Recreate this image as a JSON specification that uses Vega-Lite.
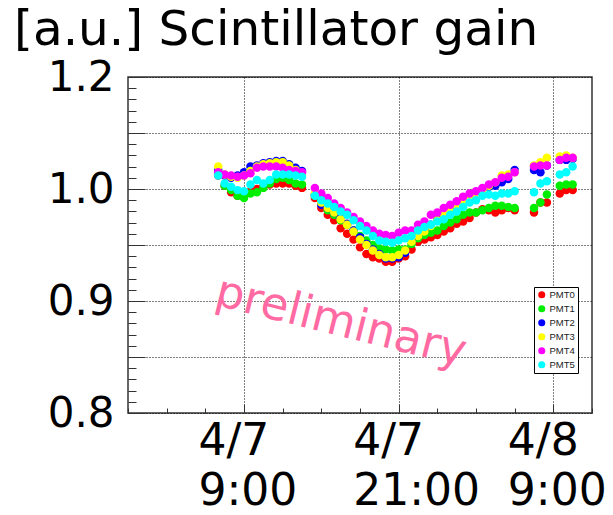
{
"$schema":"https://vega.github.io/schema/vega-lite/v6.json",
"width":464,"height":336,
"autosize":{"type":"none"},
"padding":{"left":128,"top":77,"right":21,"bottom":102},
"background":"white",
"title":{"text":"[a.u.]  Scintillator gain","anchor":"start","frame":"group","dx":-114,"dy":67,"offset":30,"baseline":"alphabetic","fontSize":48.5,"fontWeight":"normal","font":"DejaVu Sans","color":"black"},
"config":{"font":"DejaVu Sans","view":{"stroke":"#333","strokeWidth":1.5}},
"layer":[
{"data":{"values":[
{"t":"2015-04-07T07:00","s":"PMT0","v":1.012},{"t":"2015-04-07T07:30","s":"PMT0","v":1.003},{"t":"2015-04-07T08:00","s":"PMT0","v":0.997},{"t":"2015-04-07T08:30","s":"PMT0","v":0.994},{"t":"2015-04-07T09:00","s":"PMT0","v":0.994},{"t":"2015-04-07T09:30","s":"PMT0","v":0.998},{"t":"2015-04-07T10:00","s":"PMT0","v":1.000},{"t":"2015-04-07T10:30","s":"PMT0","v":1.003},{"t":"2015-04-07T11:00","s":"PMT0","v":1.004},{"t":"2015-04-07T11:30","s":"PMT0","v":1.005},{"t":"2015-04-07T12:00","s":"PMT0","v":1.005},{"t":"2015-04-07T12:30","s":"PMT0","v":1.005},{"t":"2015-04-07T13:00","s":"PMT0","v":1.003},{"t":"2015-04-07T13:30","s":"PMT0","v":1.001},
{"t":"2015-04-07T14:30","s":"PMT0","v":0.992},{"t":"2015-04-07T15:00","s":"PMT0","v":0.983},{"t":"2015-04-07T15:30","s":"PMT0","v":0.977},{"t":"2015-04-07T16:00","s":"PMT0","v":0.972},{"t":"2015-04-07T16:30","s":"PMT0","v":0.965},{"t":"2015-04-07T17:00","s":"PMT0","v":0.960},{"t":"2015-04-07T17:30","s":"PMT0","v":0.955},{"t":"2015-04-07T18:00","s":"PMT0","v":0.948},{"t":"2015-04-07T18:30","s":"PMT0","v":0.942},{"t":"2015-04-07T19:00","s":"PMT0","v":0.939},{"t":"2015-04-07T19:30","s":"PMT0","v":0.938},{"t":"2015-04-07T20:00","s":"PMT0","v":0.935},{"t":"2015-04-07T20:30","s":"PMT0","v":0.935},{"t":"2015-04-07T21:00","s":"PMT0","v":0.938},{"t":"2015-04-07T21:30","s":"PMT0","v":0.940},
{"t":"2015-04-07T22:00","s":"PMT0","v":0.946},{"t":"2015-04-07T22:30","s":"PMT0","v":0.953},{"t":"2015-04-07T23:00","s":"PMT0","v":0.955},{"t":"2015-04-07T23:30","s":"PMT0","v":0.957},{"t":"2015-04-08T00:00","s":"PMT0","v":0.959},{"t":"2015-04-08T00:30","s":"PMT0","v":0.962},{"t":"2015-04-08T01:00","s":"PMT0","v":0.965},{"t":"2015-04-08T01:30","s":"PMT0","v":0.969},{"t":"2015-04-08T02:00","s":"PMT0","v":0.971},{"t":"2015-04-08T02:30","s":"PMT0","v":0.974},{"t":"2015-04-08T03:00","s":"PMT0","v":0.979},{"t":"2015-04-08T03:30","s":"PMT0","v":0.982},{"t":"2015-04-08T04:00","s":"PMT0","v":0.981},{"t":"2015-04-08T04:30","s":"PMT0","v":0.979},{"t":"2015-04-08T05:00","s":"PMT0","v":0.981},{"t":"2015-04-08T05:30","s":"PMT0","v":0.983},{"t":"2015-04-08T06:00","s":"PMT0","v":0.981},
{"t":"2015-04-08T07:30","s":"PMT0","v":0.979},{"t":"2015-04-08T08:00","s":"PMT0","v":0.988},{"t":"2015-04-08T08:30","s":"PMT0","v":0.988},{"t":"2015-04-08T09:30","s":"PMT0","v":0.996},{"t":"2015-04-08T10:00","s":"PMT0","v":0.999},{"t":"2015-04-08T10:30","s":"PMT0","v":0.999},
{"t":"2015-04-07T07:00","s":"PMT1","v":1.013},{"t":"2015-04-07T07:30","s":"PMT1","v":1.003},{"t":"2015-04-07T08:00","s":"PMT1","v":0.999},{"t":"2015-04-07T08:30","s":"PMT1","v":0.994},{"t":"2015-04-07T09:00","s":"PMT1","v":0.992},{"t":"2015-04-07T09:30","s":"PMT1","v":0.996},{"t":"2015-04-07T10:00","s":"PMT1","v":0.997},{"t":"2015-04-07T10:30","s":"PMT1","v":1.001},{"t":"2015-04-07T11:00","s":"PMT1","v":1.005},{"t":"2015-04-07T11:30","s":"PMT1","v":1.009},{"t":"2015-04-07T12:00","s":"PMT1","v":1.010},{"t":"2015-04-07T12:30","s":"PMT1","v":1.008},{"t":"2015-04-07T13:00","s":"PMT1","v":1.005},{"t":"2015-04-07T13:30","s":"PMT1","v":1.004},
{"t":"2015-04-07T14:30","s":"PMT1","v":0.994},{"t":"2015-04-07T15:00","s":"PMT1","v":0.987},{"t":"2015-04-07T15:30","s":"PMT1","v":0.981},{"t":"2015-04-07T16:00","s":"PMT1","v":0.977},{"t":"2015-04-07T16:30","s":"PMT1","v":0.972},{"t":"2015-04-07T17:00","s":"PMT1","v":0.968},{"t":"2015-04-07T17:30","s":"PMT1","v":0.963},{"t":"2015-04-07T18:00","s":"PMT1","v":0.958},{"t":"2015-04-07T18:30","s":"PMT1","v":0.954},{"t":"2015-04-07T19:00","s":"PMT1","v":0.950},{"t":"2015-04-07T19:30","s":"PMT1","v":0.947},{"t":"2015-04-07T20:00","s":"PMT1","v":0.946},{"t":"2015-04-07T20:30","s":"PMT1","v":0.945},{"t":"2015-04-07T21:00","s":"PMT1","v":0.946},{"t":"2015-04-07T21:30","s":"PMT1","v":0.946},
{"t":"2015-04-07T22:00","s":"PMT1","v":0.951},{"t":"2015-04-07T22:30","s":"PMT1","v":0.956},{"t":"2015-04-07T23:00","s":"PMT1","v":0.959},{"t":"2015-04-07T23:30","s":"PMT1","v":0.961},{"t":"2015-04-08T00:00","s":"PMT1","v":0.963},{"t":"2015-04-08T00:30","s":"PMT1","v":0.967},{"t":"2015-04-08T01:00","s":"PMT1","v":0.970},{"t":"2015-04-08T01:30","s":"PMT1","v":0.973},{"t":"2015-04-08T02:00","s":"PMT1","v":0.977},{"t":"2015-04-08T02:30","s":"PMT1","v":0.979},{"t":"2015-04-08T03:00","s":"PMT1","v":0.979},{"t":"2015-04-08T03:30","s":"PMT1","v":0.981},{"t":"2015-04-08T04:00","s":"PMT1","v":0.983},{"t":"2015-04-08T04:30","s":"PMT1","v":0.985},{"t":"2015-04-08T05:00","s":"PMT1","v":0.985},{"t":"2015-04-08T05:30","s":"PMT1","v":0.984},{"t":"2015-04-08T06:00","s":"PMT1","v":0.983},
{"t":"2015-04-08T07:30","s":"PMT1","v":0.983},{"t":"2015-04-08T08:00","s":"PMT1","v":0.988},{"t":"2015-04-08T08:30","s":"PMT1","v":0.995},{"t":"2015-04-08T09:30","s":"PMT1","v":1.003},{"t":"2015-04-08T10:00","s":"PMT1","v":1.004},{"t":"2015-04-08T10:30","s":"PMT1","v":1.004},
{"t":"2015-04-07T07:00","s":"PMT2","v":1.017},{"t":"2015-04-07T07:30","s":"PMT2","v":1.012},{"t":"2015-04-07T08:00","s":"PMT2","v":1.010},{"t":"2015-04-07T08:30","s":"PMT2","v":1.012},{"t":"2015-04-07T09:00","s":"PMT2","v":1.015},{"t":"2015-04-07T09:30","s":"PMT2","v":1.020},{"t":"2015-04-07T10:00","s":"PMT2","v":1.021},{"t":"2015-04-07T10:30","s":"PMT2","v":1.023},{"t":"2015-04-07T11:00","s":"PMT2","v":1.024},{"t":"2015-04-07T11:30","s":"PMT2","v":1.025},{"t":"2015-04-07T12:00","s":"PMT2","v":1.025},{"t":"2015-04-07T12:30","s":"PMT2","v":1.022},{"t":"2015-04-07T13:00","s":"PMT2","v":1.019},{"t":"2015-04-07T13:30","s":"PMT2","v":1.016},
{"t":"2015-04-07T14:30","s":"PMT2","v":0.995},{"t":"2015-04-07T15:00","s":"PMT2","v":0.986},{"t":"2015-04-07T15:30","s":"PMT2","v":0.983},{"t":"2015-04-07T16:00","s":"PMT2","v":0.979},{"t":"2015-04-07T16:30","s":"PMT2","v":0.974},{"t":"2015-04-07T17:00","s":"PMT2","v":0.969},{"t":"2015-04-07T17:30","s":"PMT2","v":0.963},{"t":"2015-04-07T18:00","s":"PMT2","v":0.957},{"t":"2015-04-07T18:30","s":"PMT2","v":0.951},{"t":"2015-04-07T19:00","s":"PMT2","v":0.946},{"t":"2015-04-07T19:30","s":"PMT2","v":0.942},{"t":"2015-04-07T20:00","s":"PMT2","v":0.938},{"t":"2015-04-07T20:30","s":"PMT2","v":0.938},{"t":"2015-04-07T21:00","s":"PMT2","v":0.939},{"t":"2015-04-07T21:30","s":"PMT2","v":0.943},
{"t":"2015-04-07T22:00","s":"PMT2","v":0.955},{"t":"2015-04-07T22:30","s":"PMT2","v":0.960},{"t":"2015-04-07T23:00","s":"PMT2","v":0.963},{"t":"2015-04-07T23:30","s":"PMT2","v":0.968},{"t":"2015-04-08T00:00","s":"PMT2","v":0.973},{"t":"2015-04-08T00:30","s":"PMT2","v":0.978},{"t":"2015-04-08T01:00","s":"PMT2","v":0.981},{"t":"2015-04-08T01:30","s":"PMT2","v":0.986},{"t":"2015-04-08T02:00","s":"PMT2","v":0.989},{"t":"2015-04-08T02:30","s":"PMT2","v":0.993},{"t":"2015-04-08T03:00","s":"PMT2","v":0.996},{"t":"2015-04-08T03:30","s":"PMT2","v":1.000},{"t":"2015-04-08T04:00","s":"PMT2","v":1.002},{"t":"2015-04-08T04:30","s":"PMT2","v":1.003},{"t":"2015-04-08T05:00","s":"PMT2","v":1.006},{"t":"2015-04-08T05:30","s":"PMT2","v":1.009},{"t":"2015-04-08T06:00","s":"PMT2","v":1.017},
{"t":"2015-04-08T07:30","s":"PMT2","v":1.017},{"t":"2015-04-08T08:00","s":"PMT2","v":1.015},{"t":"2015-04-08T08:30","s":"PMT2","v":1.021},{"t":"2015-04-08T09:30","s":"PMT2","v":1.026},{"t":"2015-04-08T10:00","s":"PMT2","v":1.026},{"t":"2015-04-08T10:30","s":"PMT2","v":1.027},
{"t":"2015-04-07T07:00","s":"PMT3","v":1.020},{"t":"2015-04-07T07:30","s":"PMT3","v":1.013},{"t":"2015-04-07T08:00","s":"PMT3","v":1.011},{"t":"2015-04-07T08:30","s":"PMT3","v":1.010},{"t":"2015-04-07T09:00","s":"PMT3","v":1.012},{"t":"2015-04-07T09:30","s":"PMT3","v":1.016},{"t":"2015-04-07T10:00","s":"PMT3","v":1.020},{"t":"2015-04-07T10:30","s":"PMT3","v":1.022},{"t":"2015-04-07T11:00","s":"PMT3","v":1.023},{"t":"2015-04-07T11:30","s":"PMT3","v":1.024},{"t":"2015-04-07T12:00","s":"PMT3","v":1.024},{"t":"2015-04-07T12:30","s":"PMT3","v":1.021},{"t":"2015-04-07T13:00","s":"PMT3","v":1.017},{"t":"2015-04-07T13:30","s":"PMT3","v":1.013},
{"t":"2015-04-07T14:30","s":"PMT3","v":0.996},{"t":"2015-04-07T15:00","s":"PMT3","v":0.988},{"t":"2015-04-07T15:30","s":"PMT3","v":0.983},{"t":"2015-04-07T16:00","s":"PMT3","v":0.979},{"t":"2015-04-07T16:30","s":"PMT3","v":0.973},{"t":"2015-04-07T17:00","s":"PMT3","v":0.968},{"t":"2015-04-07T17:30","s":"PMT3","v":0.962},{"t":"2015-04-07T18:00","s":"PMT3","v":0.955},{"t":"2015-04-07T18:30","s":"PMT3","v":0.950},{"t":"2015-04-07T19:00","s":"PMT3","v":0.945},{"t":"2015-04-07T19:30","s":"PMT3","v":0.941},{"t":"2015-04-07T20:00","s":"PMT3","v":0.939},{"t":"2015-04-07T20:30","s":"PMT3","v":0.939},{"t":"2015-04-07T21:00","s":"PMT3","v":0.941},{"t":"2015-04-07T21:30","s":"PMT3","v":0.945},
{"t":"2015-04-07T22:00","s":"PMT3","v":0.953},{"t":"2015-04-07T22:30","s":"PMT3","v":0.958},{"t":"2015-04-07T23:00","s":"PMT3","v":0.962},{"t":"2015-04-07T23:30","s":"PMT3","v":0.967},{"t":"2015-04-08T00:00","s":"PMT3","v":0.972},{"t":"2015-04-08T00:30","s":"PMT3","v":0.977},{"t":"2015-04-08T01:00","s":"PMT3","v":0.980},{"t":"2015-04-08T01:30","s":"PMT3","v":0.985},{"t":"2015-04-08T02:00","s":"PMT3","v":0.988},{"t":"2015-04-08T02:30","s":"PMT3","v":0.992},{"t":"2015-04-08T03:00","s":"PMT3","v":0.996},{"t":"2015-04-08T03:30","s":"PMT3","v":0.999},{"t":"2015-04-08T04:00","s":"PMT3","v":1.003},{"t":"2015-04-08T04:30","s":"PMT3","v":1.006},{"t":"2015-04-08T05:00","s":"PMT3","v":1.012},{"t":"2015-04-08T05:30","s":"PMT3","v":1.013},{"t":"2015-04-08T06:00","s":"PMT3","v":1.015},
{"t":"2015-04-08T07:30","s":"PMT3","v":1.021},{"t":"2015-04-08T08:00","s":"PMT3","v":1.024},{"t":"2015-04-08T08:30","s":"PMT3","v":1.028},{"t":"2015-04-08T09:30","s":"PMT3","v":1.029},{"t":"2015-04-08T10:00","s":"PMT3","v":1.030},{"t":"2015-04-08T10:30","s":"PMT3","v":1.028},
{"t":"2015-04-07T07:00","s":"PMT4","v":1.015},{"t":"2015-04-07T07:30","s":"PMT4","v":1.013},{"t":"2015-04-07T08:00","s":"PMT4","v":1.012},{"t":"2015-04-07T08:30","s":"PMT4","v":1.011},{"t":"2015-04-07T09:00","s":"PMT4","v":1.012},{"t":"2015-04-07T09:30","s":"PMT4","v":1.014},{"t":"2015-04-07T10:00","s":"PMT4","v":1.019},{"t":"2015-04-07T10:30","s":"PMT4","v":1.020},{"t":"2015-04-07T11:00","s":"PMT4","v":1.020},{"t":"2015-04-07T11:30","s":"PMT4","v":1.020},{"t":"2015-04-07T12:00","s":"PMT4","v":1.019},{"t":"2015-04-07T12:30","s":"PMT4","v":1.017},{"t":"2015-04-07T13:00","s":"PMT4","v":1.016},{"t":"2015-04-07T13:30","s":"PMT4","v":1.015},
{"t":"2015-04-07T14:30","s":"PMT4","v":1.001},{"t":"2015-04-07T15:00","s":"PMT4","v":0.996},{"t":"2015-04-07T15:30","s":"PMT4","v":0.992},{"t":"2015-04-07T16:00","s":"PMT4","v":0.987},{"t":"2015-04-07T16:30","s":"PMT4","v":0.983},{"t":"2015-04-07T17:00","s":"PMT4","v":0.979},{"t":"2015-04-07T17:30","s":"PMT4","v":0.975},{"t":"2015-04-07T18:00","s":"PMT4","v":0.971},{"t":"2015-04-07T18:30","s":"PMT4","v":0.967},{"t":"2015-04-07T19:00","s":"PMT4","v":0.963},{"t":"2015-04-07T19:30","s":"PMT4","v":0.960},{"t":"2015-04-07T20:00","s":"PMT4","v":0.959},{"t":"2015-04-07T20:30","s":"PMT4","v":0.958},{"t":"2015-04-07T21:00","s":"PMT4","v":0.961},{"t":"2015-04-07T21:30","s":"PMT4","v":0.963},
{"t":"2015-04-07T22:00","s":"PMT4","v":0.963},{"t":"2015-04-07T22:30","s":"PMT4","v":0.968},{"t":"2015-04-07T23:00","s":"PMT4","v":0.971},{"t":"2015-04-07T23:30","s":"PMT4","v":0.977},{"t":"2015-04-08T00:00","s":"PMT4","v":0.979},{"t":"2015-04-08T00:30","s":"PMT4","v":0.983},{"t":"2015-04-08T01:00","s":"PMT4","v":0.986},{"t":"2015-04-08T01:30","s":"PMT4","v":0.989},{"t":"2015-04-08T02:00","s":"PMT4","v":0.993},{"t":"2015-04-08T02:30","s":"PMT4","v":0.996},{"t":"2015-04-08T03:00","s":"PMT4","v":0.998},{"t":"2015-04-08T03:30","s":"PMT4","v":1.001},{"t":"2015-04-08T04:00","s":"PMT4","v":1.004},{"t":"2015-04-08T04:30","s":"PMT4","v":1.006},{"t":"2015-04-08T05:00","s":"PMT4","v":1.010},{"t":"2015-04-08T05:30","s":"PMT4","v":1.011},{"t":"2015-04-08T06:00","s":"PMT4","v":1.015},
{"t":"2015-04-08T07:30","s":"PMT4","v":1.020},{"t":"2015-04-08T08:00","s":"PMT4","v":1.021},{"t":"2015-04-08T08:30","s":"PMT4","v":1.021},{"t":"2015-04-08T09:30","s":"PMT4","v":1.026},{"t":"2015-04-08T10:00","s":"PMT4","v":1.028},{"t":"2015-04-08T10:30","s":"PMT4","v":1.028},
{"t":"2015-04-07T07:00","s":"PMT5","v":1.012},{"t":"2015-04-07T07:30","s":"PMT5","v":1.005},{"t":"2015-04-07T08:00","s":"PMT5","v":1.002},{"t":"2015-04-07T08:30","s":"PMT5","v":0.999},{"t":"2015-04-07T09:00","s":"PMT5","v":0.998},{"t":"2015-04-07T09:30","s":"PMT5","v":1.004},{"t":"2015-04-07T10:00","s":"PMT5","v":1.008},{"t":"2015-04-07T10:30","s":"PMT5","v":1.005},{"t":"2015-04-07T11:00","s":"PMT5","v":1.008},{"t":"2015-04-07T11:30","s":"PMT5","v":1.013},{"t":"2015-04-07T12:00","s":"PMT5","v":1.013},{"t":"2015-04-07T12:30","s":"PMT5","v":1.013},{"t":"2015-04-07T13:00","s":"PMT5","v":1.012},{"t":"2015-04-07T13:30","s":"PMT5","v":1.011},
{"t":"2015-04-07T14:30","s":"PMT5","v":0.994},{"t":"2015-04-07T15:00","s":"PMT5","v":0.990},{"t":"2015-04-07T15:30","s":"PMT5","v":0.987},{"t":"2015-04-07T16:00","s":"PMT5","v":0.984},{"t":"2015-04-07T16:30","s":"PMT5","v":0.980},{"t":"2015-04-07T17:00","s":"PMT5","v":0.977},{"t":"2015-04-07T17:30","s":"PMT5","v":0.972},{"t":"2015-04-07T18:00","s":"PMT5","v":0.967},{"t":"2015-04-07T18:30","s":"PMT5","v":0.963},{"t":"2015-04-07T19:00","s":"PMT5","v":0.958},{"t":"2015-04-07T19:30","s":"PMT5","v":0.954},{"t":"2015-04-07T20:00","s":"PMT5","v":0.953},{"t":"2015-04-07T20:30","s":"PMT5","v":0.952},{"t":"2015-04-07T21:00","s":"PMT5","v":0.954},{"t":"2015-04-07T21:30","s":"PMT5","v":0.956},
{"t":"2015-04-07T22:00","s":"PMT5","v":0.958},{"t":"2015-04-07T22:30","s":"PMT5","v":0.963},{"t":"2015-04-07T23:00","s":"PMT5","v":0.966},{"t":"2015-04-07T23:30","s":"PMT5","v":0.968},{"t":"2015-04-08T00:00","s":"PMT5","v":0.971},{"t":"2015-04-08T00:30","s":"PMT5","v":0.973},{"t":"2015-04-08T01:00","s":"PMT5","v":0.977},{"t":"2015-04-08T01:30","s":"PMT5","v":0.980},{"t":"2015-04-08T02:00","s":"PMT5","v":0.984},{"t":"2015-04-08T02:30","s":"PMT5","v":0.988},{"t":"2015-04-08T03:00","s":"PMT5","v":0.990},{"t":"2015-04-08T03:30","s":"PMT5","v":0.994},{"t":"2015-04-08T04:00","s":"PMT5","v":0.995},{"t":"2015-04-08T04:30","s":"PMT5","v":0.994},{"t":"2015-04-08T05:00","s":"PMT5","v":0.996},{"t":"2015-04-08T05:30","s":"PMT5","v":0.996},{"t":"2015-04-08T06:00","s":"PMT5","v":0.998},
{"t":"2015-04-08T07:30","s":"PMT5","v":0.997},{"t":"2015-04-08T08:00","s":"PMT5","v":1.005},{"t":"2015-04-08T08:30","s":"PMT5","v":1.007},{"t":"2015-04-08T09:30","s":"PMT5","v":1.013},{"t":"2015-04-08T10:00","s":"PMT5","v":1.015},{"t":"2015-04-08T10:30","s":"PMT5","v":1.020}
]},
"mark":{"type":"circle","size":72,"opacity":1},
"encoding":{
"x":{"field":"t","type":"temporal",
 "scale":{"domain":[{"year":2015,"month":4,"date":7,"hours":0},{"year":2015,"month":4,"date":8,"hours":12}]},
 "axis":{"title":null,"domain":false,"tickCount":100,
  "values":[{"year":2015,"month":4,"date":7,"hours":0},{"year":2015,"month":4,"date":7,"hours":3},{"year":2015,"month":4,"date":7,"hours":6},{"year":2015,"month":4,"date":7,"hours":9},{"year":2015,"month":4,"date":7,"hours":12},{"year":2015,"month":4,"date":7,"hours":15},{"year":2015,"month":4,"date":7,"hours":18},{"year":2015,"month":4,"date":7,"hours":21},{"year":2015,"month":4,"date":8,"hours":0},{"year":2015,"month":4,"date":8,"hours":3},{"year":2015,"month":4,"date":8,"hours":6},{"year":2015,"month":4,"date":8,"hours":9},{"year":2015,"month":4,"date":8,"hours":12}],
  "labelExpr":"hours(datum.value)%12==9 ? [timeFormat(datum.value,'%-m/%-d'), timeFormat(datum.value,'%-H:%M')] : ''",
  "labelAlign":"left","labelOffset":-46,"labelBaseline":"top","labelFontSize":44,"labelLineHeight":50,"labelPadding":15,"labelColor":"black","labelFont":"DejaVu Sans",
  "labelOverlap":false,"labelFlush":false,"labelBound":false,
  "tickSize":{"condition":{"test":"hours(datum.value)%12==9","value":-9},"value":-5},
  "tickColor":"#333","tickWidth":1,
  "grid":true,"gridColor":"black","gridDash":[1,2],"gridWidth":1,
  "gridOpacity":{"condition":{"test":"hours(datum.value)%12==9","value":1},"value":0}}},
"y":{"field":"v","type":"quantitative",
 "scale":{"domain":[0.8,1.1],"nice":false,"zero":false},
 "axis":{"title":null,"domain":false,"tickCount":100,
  "values":[0.8,0.81,0.82,0.83,0.84,0.85,0.86,0.87,0.88,0.89,0.9,0.91,0.92,0.93,0.94,0.95,0.96,0.97,0.98,0.99,1.0,1.01,1.02,1.03,1.04,1.05,1.06,1.07,1.08,1.09,1.1],
  "labelExpr":"abs(datum.value*10-round(datum.value*10))<0.001 ? (abs(datum.value-1.1)<0.001 ? '1.2' : format(datum.value,'.1f')) : ''",
  "labelFontSize":42,"labelColor":"black","labelFont":"DejaVu Sans","labelPadding":31,"labelBaseline":"middle",
  "labelOverlap":false,"labelFlush":false,"labelBound":false,
  "tickSize":{"condition":{"test":"abs(datum.value*20-round(datum.value*20))<0.001","value":-17},"value":-8},
  "tickColor":"#333","tickWidth":1,
  "grid":true,"gridColor":"black","gridDash":[1,2],"gridWidth":1,
  "gridOpacity":{"condition":{"test":"abs(datum.value*20-round(datum.value*20))<0.001","value":1},"value":0}}},
"color":{"field":"s","type":"nominal",
 "scale":{"domain":["PMT0","PMT1","PMT2","PMT3","PMT4","PMT5"],"range":["#ff0000","#00ee00","#0000ff","#ffff00","#ff00ff","#00ffff"]},
 "legend":{"title":null,"orient":"none","legendX":406,"legendY":210,"strokeColor":"black","fillColor":"white","padding":3,"cornerRadius":0,
  "symbolType":"circle","symbolSize":50,"symbolStrokeWidth":0,"labelFontSize":9.5,"labelFont":"Liberation Sans","labelColor":"#222","rowPadding":3,"labelOffset":3}}
}},
{"data":{"values":[{"t":"2015-04-07T16:32","v":0.8813,"txt":"preliminary"}]},
"mark":{"type":"text","angle":14,"fontSize":45,"color":"#ff6aa2","font":"DejaVu Sans","align":"center","baseline":"middle"},
"encoding":{"x":{"field":"t","type":"temporal"},"y":{"field":"v","type":"quantitative"},"text":{"field":"txt"}}}
]
}
